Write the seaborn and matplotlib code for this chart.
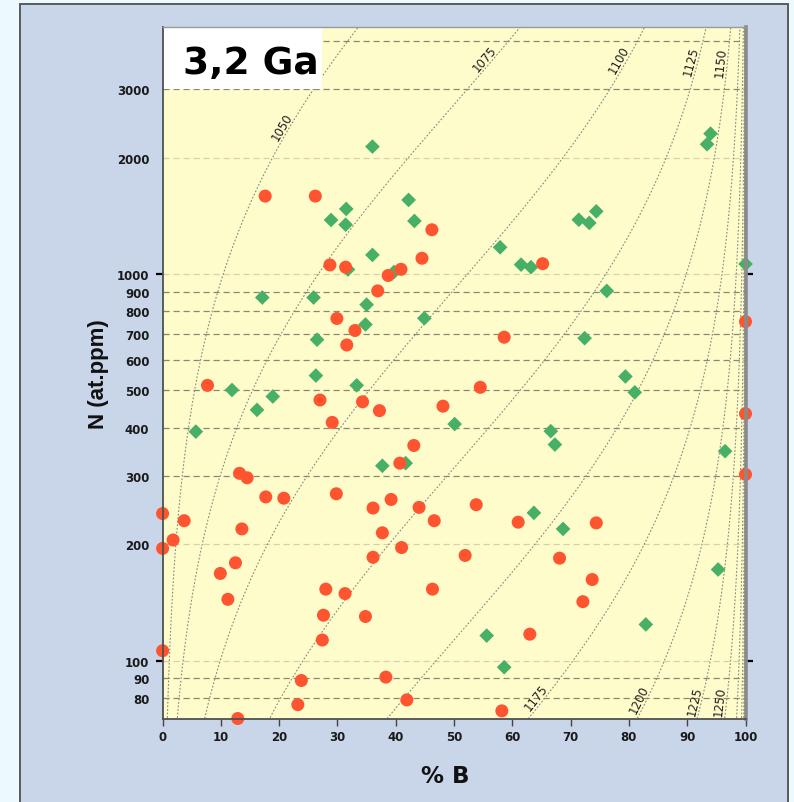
import numpy as np
import matplotlib
matplotlib.use("Agg")
import matplotlib.pyplot as plt
from matplotlib.patches import Rectangle
from matplotlib.ticker import FixedLocator, NullFormatter
import seaborn as sns

# ---------------------------------------------------------------------------
# Diamond nitrogen data: % B-centre aggregation vs total N (at.ppm)
# ---------------------------------------------------------------------------
pct_b_red = [17.6, 26.2, 28.7, 31.4, 46.2, 44.5, 40.9, 38.7, 36.9, 29.9,
             33.0, 31.6, 65.2, 58.6, 7.7, 27.0, 34.3, 37.2, 29.1, 48.1,
             54.5, 43.1, 40.7, 13.2, 14.5, 17.7, 20.8, 29.8, 39.2, 36.1,
             44.0, 53.8, 46.6, 0.0, 3.7, 1.8, 0.0, 13.6, 37.7, 41.0,
             61.0, 74.4, 9.9, 12.5, 36.1, 51.9, 68.1, 11.2, 28.0, 31.3,
             73.7, 72.1, 46.3, 27.6, 34.8, 27.4, 63.0, 0.0, 23.8, 38.3,
             23.2, 41.9, 12.9, 58.2, 100.0, 100.0, 100.0]
n_red = [1590, 1590, 1055, 1041, 1301, 1098, 1028, 991, 904, 767,
         714, 655, 1063, 686, 515, 472, 467, 443, 413, 455,
         509, 360, 324, 305, 297, 265, 263, 270, 261, 248,
         249, 253, 230, 240, 230, 205, 195, 219, 214, 196,
         228, 227, 168, 179, 185, 187, 184, 144, 153, 149,
         162, 142, 153, 131, 130, 113, 117, 106, 88.8, 90.6,
         76.9, 79.1, 70.8, 74.1, 753, 435, 303]

pct_b_green = [36.0, 42.2, 43.2, 31.5, 28.9, 31.4, 36.0, 31.8, 57.9, 61.5,
               63.2, 74.4, 71.4, 73.2, 94.0, 93.4, 100.0, 76.2, 17.1, 25.9,
               35.0, 34.8, 44.9, 26.5, 72.4, 26.3, 33.3, 11.9, 18.9, 16.2,
               5.7, 50.1, 79.4, 81.0, 66.6, 67.3, 96.5, 37.7, 41.7, 63.7,
               68.7, 95.3, 82.9, 55.6, 58.6, 39.7]
n_green = [2135, 1554, 1371, 1473, 1379, 1341, 1120, 1027, 1172, 1057,
           1041, 1452, 1381, 1355, 2306, 2165, 1061, 904, 869, 869,
           833, 740, 768, 676, 682, 546, 515, 501, 482, 445,
           391, 409, 543, 494, 392, 362, 348, 319, 324, 241,
           219, 172, 124, 116, 96.1, 1012]

# Isotherms (deg C) and which ones carry a label
isotherm_temps = [1050, 1075, 1100, 1125, 1150, 1175, 1200, 1225, 1250,
                  1275, 1300, 1325, 1350, 1375, 1400]
top_labels = [1050, 1075, 1100, 1125, 1150]
bottom_labels = [1175, 1200, 1225, 1250]

y_tick_values = [80, 90, 100, 200, 300, 400, 500, 600, 700, 800, 900,
                 1000, 2000, 3000]
x_tick_values = [0, 10, 20, 30, 40, 50, 60, 70, 80, 90, 100]
grid_strong = [80, 90, 300, 400, 500, 600, 700, 800, 900, 3000, 4000]
grid_faint = [100, 200, 1000, 2000]

panel_title = "3,2 Ga"

# Second-order A->B aggregation kinetics for a 3.2 Ga mantle residence
EA_EV = 7.03               # activation energy, eV
K_B = 8.617e-5             # Boltzmann constant, eV/K
PREFACTOR = 6.9e5          # at.ppm^-1 s^-1
T_RES_S = 3.2e9 * 3.156e7  # residence time, s


def iso_constant(t_c):
    """N(1-f)/f that is reached at temperature t_c (deg C)."""
    return np.exp(EA_EV / (K_B * (t_c + 273.15)) - np.log(PREFACTOR * T_RES_S))


def pct_b_on_isotherm(n, t_c):
    c = iso_constant(t_c)
    return 100.0 * n / (n + c)


# ---------------------------------------------------------------------------
sns.set_theme(style="white")
plt.rcParams["font.family"] = ["DejaVu Sans"]

W, H = 794, 803
fig = plt.figure(figsize=(W / 100, H / 100), dpi=100, facecolor="#ecf9fe")

# blue-grey panel behind the chart
fig.patches.append(Rectangle((20 / W, -0.05), (788 - 20) / W, 1.05 - 5 / H,
                             transform=fig.transFigure, facecolor="#c9d5e9",
                             edgecolor="#5a5a5a", linewidth=1.4, zorder=-10))

ax = fig.add_axes([162.6 / W, 1 - 720 / H, (745.5 - 162.6) / W, (720 - 28.3) / H])
ax.set_zorder(1)
ax.set_facecolor("#fffccc")
ax.set_yscale("log")
ax.set_xlim(0, 100)
ax.set_ylim(70.6, 4345)

# horizontal dashed grid
for v in grid_strong:
    ax.axhline(v, color="#8c8870", lw=0.9, ls=(0, (5, 3)), zorder=1)
for v in grid_faint:
    ax.axhline(v, color="#d6d1a6", lw=0.9, ls=(0, (5, 3)), zorder=1)

# isotherms
n_line = np.logspace(np.log10(60), np.log10(5000), 800)
for t in isotherm_temps:
    ax.plot(pct_b_on_isotherm(n_line, t), n_line, color="#8a8a80", lw=0.8,
            ls=(0, (1.6, 1.6)), zorder=2)


def label_isotherm(t, n_at):
    b = pct_b_on_isotherm(n_at, t)
    p1 = ax.transData.transform((pct_b_on_isotherm(n_at / 1.03, t), n_at / 1.03))
    p2 = ax.transData.transform((pct_b_on_isotherm(n_at * 1.03, t), n_at * 1.03))
    ang = np.degrees(np.arctan2(p2[1] - p1[1], p2[0] - p1[0]))
    d = 5.0
    off = (-d * np.sin(np.radians(ang)), d * np.cos(np.radians(ang)))
    ax.annotate(str(t), xy=(b, n_at), xytext=off, textcoords="offset points",
                rotation=ang, rotation_mode="anchor", ha="center", va="center",
                fontsize=8.5, color="#1e1e1e", zorder=4)


for t in top_labels:
    label_isotherm(t, 2356 if t == 1050 else 3515)
for t in bottom_labels:
    label_isotherm(t, 78.2)

# scatter series
sns.scatterplot(x=pct_b_green, y=n_green, marker="D", s=56,
                color="#47b066", edgecolor="none", linewidth=0,
                ax=ax, zorder=5, clip_on=False)
sns.scatterplot(x=pct_b_red, y=n_red, marker="o", s=88, color="#fe5530",
                edgecolor="none", linewidth=0, ax=ax, zorder=6, clip_on=False)

# title box
ax.add_patch(Rectangle((0, 0.9115), 0.2737, 0.0885, transform=ax.transAxes,
                       facecolor="white", edgecolor="none", zorder=3))
ax.text(0.035, 0.934, panel_title, transform=ax.transAxes, fontsize=27,
        fontweight="bold", color="black", ha="left", va="baseline", zorder=4)

# axes, ticks, labels
ax.set_xticks(x_tick_values, labels=[str(v) for v in x_tick_values])
ax.yaxis.set_major_locator(FixedLocator(y_tick_values))
ax.set_yticklabels([str(v) for v in y_tick_values])
ax.yaxis.set_minor_locator(FixedLocator([100, 1000]))
ax.yaxis.set_minor_formatter(NullFormatter())
ax.yaxis.remove_overlapping_locs = False

ax.tick_params(axis="x", which="major", direction="out", length=5, width=1,
               color="#444444", pad=3, labelsize=8.5, bottom=True)
ax.tick_params(axis="y", which="major", direction="in", length=3, width=0.8,
               color="#888888", pad=9.5, labelsize=8.5, left=True, right=False)
ax.tick_params(axis="y", which="minor", direction="out", length=5, width=1.6,
               color="black", left=True, right=True)
for lab in ax.get_xticklabels() + ax.get_yticklabels():
    lab.set_fontweight("bold")
    lab.set_color("#1a1a1a")

ax.set_xlabel("% B", fontsize=16.5, fontweight="bold", color="#111111",
              labelpad=15, x=0.485)
ax.set_ylabel("N (at.ppm)", fontsize=16, fontweight="bold", color="#111111",
              labelpad=6, family=["Liberation Sans", "DejaVu Sans"])

for side, col, lw in [("left", "#505050", 1.3), ("bottom", "#505050", 1.3),
                      ("right", "#8a8a8a", 2.6), ("top", "#9a9a9a", 1.0)]:
    ax.spines[side].set_visible(True)
    ax.spines[side].set_color(col)
    ax.spines[side].set_linewidth(lw)
    ax.spines[side].set_zorder(7)

fig.savefig("out.png", dpi=100, facecolor=fig.get_facecolor())
